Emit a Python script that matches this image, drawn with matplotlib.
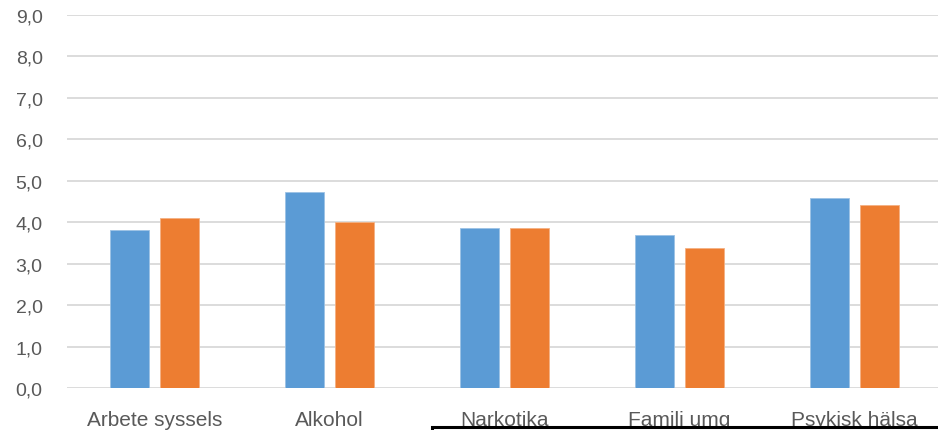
import matplotlib
matplotlib.use("Agg")
import matplotlib.pyplot as plt
from matplotlib.patches import Rectangle
import numpy as np

categories = ["Arbete syssels", "Alkohol", "Narkotika", "Familj umg", "Psykisk hälsa"]
series_a = [3.82, 4.74, 3.86, 3.70, 4.58]
series_b = [4.10, 4.00, 3.86, 3.38, 4.42]
y_ticks = [0, 1, 2, 3, 4, 5, 6, 7, 8, 9]
y_tick_labels = ["0,0", "1,0", "2,0", "3,0", "4,0", "5,0", "6,0", "7,0", "8,0", "9,0"]

blue = "#5b9bd5"
orange = "#ed7d31"
text_gray = "#595959"
grid_gray = "#d9d9d9"

plt.rcParams["font.family"] = ["Liberation Sans", "DejaVu Sans"]

fig = plt.figure(figsize=(9.38, 4.31), dpi=100)
ax = fig.add_axes([0.0714, 0.0974, 0.9329, 0.8655])

x = np.arange(len(categories))
w = 0.223
off = 0.143
ax.bar(x - off, series_a, width=w, color=blue, edgecolor="#9cc2e5", linewidth=0.6, zorder=3)
ax.bar(x + off, series_b, width=w, color=orange, edgecolor="#f4b183", linewidth=0.6, zorder=3)

ax.set_xlim(-0.5, len(categories) - 0.5)
ax.set_ylim(0, 9)
ax.set_yticks(y_ticks)
ax.set_yticklabels(y_tick_labels)
ax.set_xticks(x)
ax.set_xticklabels(categories)

for s in ax.spines.values():
    s.set_visible(False)
ax.yaxis.grid(True, color=grid_gray, linewidth=1.3, zorder=0)
ax.set_axisbelow(True)
ax.tick_params(axis="both", length=0, colors=text_gray)
ax.tick_params(axis="y", pad=17.5, labelsize=14)
ax.tick_params(axis="x", pad=16, labelsize=15)

# white box overlapping the lower right edge
box = Rectangle((432 / 938, -0.05), 0.6, 0.058, transform=fig.transFigure,
                facecolor="white", edgecolor="black", linewidth=2.2, zorder=10,
                clip_on=False)
fig.patches.append(box)

fig.savefig("out.png", dpi=100)
